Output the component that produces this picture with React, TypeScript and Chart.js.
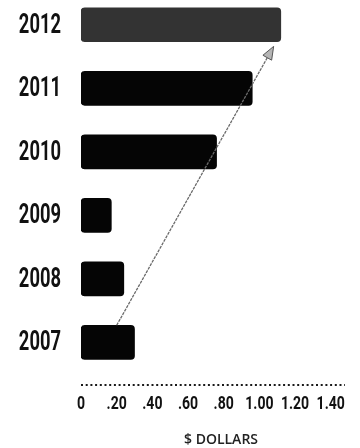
import React, { useEffect, useRef } from "react";
import { Chart, registerables } from "chart.js";

Chart.register(...registerables);

const years = ["2007", "2008", "2009", "2010", "2011", "2012"];
const prices = [0.3, 0.24, 0.17, 0.76, 0.96, 1.12];
const barColors = ["#050505", "#050505", "#050505", "#050505", "#050505", "#333333"];
const xTicks = [0, 0.2, 0.4, 0.6, 0.8, 1.0, 1.2, 1.4];
const axisTitle = "$ DOLLARS";
// trend arrow, in data units (x = dollars, y = year index)
const arrowStart = { x: 0.2, y: 0.27 };
const arrowEnd = { x: 1.08, y: 4.66 };

const fmtTick = (v: number) => {
  if (Math.abs(v) < 1e-9) return "0";
  const s = v.toFixed(2);
  return s.startsWith("0") ? s.slice(1) : s;
};

const condensedText = (
  ctx: CanvasRenderingContext2D,
  text: string,
  x: number,
  y: number,
  font: string,
  sx: number,
  align: CanvasTextAlign,
  color: string
) => {
  ctx.save();
  ctx.font = font;
  ctx.fillStyle = color;
  ctx.textAlign = align;
  ctx.textBaseline = "middle";
  ctx.translate(x, y);
  ctx.scale(sx, 1);
  ctx.fillText(text, 0, 0);
  ctx.restore();
};

const arrowPlugin = {
  id: "trendArrow",
  afterDatasetsDraw(chart: any) {
    const { ctx, scales } = chart;
    const x1 = scales.x.getPixelForValue(arrowStart.x);
    const y1 = scales.y.getPixelForValue(arrowStart.y);
    const x2 = scales.x.getPixelForValue(arrowEnd.x);
    const y2 = scales.y.getPixelForValue(arrowEnd.y);
    const ang = Math.atan2(y2 - y1, x2 - x1);
    const headLen = 13;
    const headW = 5;
    const bx = x2 - headLen * Math.cos(ang);
    const by = y2 - headLen * Math.sin(ang);
    ctx.save();
    ctx.strokeStyle = "#6a6a6a";
    ctx.lineWidth = 1.3;
    ctx.setLineDash([3, 1]);
    ctx.beginPath();
    ctx.moveTo(x1, y1);
    ctx.lineTo(bx, by);
    ctx.stroke();
    ctx.setLineDash([]);
    ctx.beginPath();
    ctx.moveTo(x2, y2);
    ctx.lineTo(bx + headW * Math.sin(ang), by - headW * Math.cos(ang));
    ctx.lineTo(bx - headW * Math.sin(ang), by + headW * Math.cos(ang));
    ctx.closePath();
    ctx.fillStyle = "#b5b5b5";
    ctx.fill();
    ctx.strokeStyle = "#555";
    ctx.lineWidth = 1;
    ctx.stroke();
    ctx.restore();
  },
  afterDraw(chart: any) {
    const { ctx, scales, chartArea } = chart;
    // dotted baseline
    ctx.save();
    ctx.strokeStyle = "#1a1a1a";
    ctx.lineWidth = 2;
    ctx.setLineDash([2, 2.7]);
    ctx.beginPath();
    ctx.moveTo(chartArea.left, chartArea.bottom);
    ctx.lineTo(chartArea.right, chartArea.bottom);
    ctx.stroke();
    ctx.restore();
    // year labels
    years.forEach((yr, i) => {
      const y = scales.y.getPixelForValue(i);
      condensedText(ctx, yr, chartArea.left - 20, y + 1, "bold 27px Roboto, sans-serif", 0.68, "right", "#111");
    });
    // dollar tick labels
    xTicks.forEach((v) => {
      const x = scales.x.getPixelForValue(v);
      condensedText(ctx, fmtTick(v), x, chartArea.bottom + 19, "bold 18px Roboto, sans-serif", 0.78, "center", "#111");
    });
    // axis title
    ctx.save();
    ctx.font = "600 14px 'Open Sans', sans-serif";
    ctx.fillStyle = "#222";
    ctx.textAlign = "center";
    ctx.textBaseline = "middle";
    ctx.fillText(axisTitle, (chartArea.left + chartArea.right) / 2 + 8, chartArea.bottom + 55);
    ctx.restore();
  },
};

export default function App() {
  const ref = useRef<HTMLCanvasElement | null>(null);

  useEffect(() => {
    document.body.style.margin = "0";
    const canvas = ref.current;
    if (!canvas) return;
    const chart = new Chart(canvas, {
      type: "bar",
      data: {
        datasets: [
          {
            data: prices.map((v, i) => ({ x: v, y: i })),
            backgroundColor: barColors,
            borderRadius: 4,
            borderSkipped: false,
            barThickness: 34,
          },
        ],
      },
      options: {
        indexAxis: "y",
        animation: false,
        responsive: false,
        maintainAspectRatio: false,
        layout: { padding: { top: 7, left: 81, right: 15, bottom: 63 } },
        plugins: {
          legend: { display: false },
          tooltip: { enabled: false },
        },
        scales: {
          y: {
            type: "linear",
            offset: false,
            grace: 0,
            min: -0.67,
            max: 5.28,
            ticks: { display: false },
            grid: { display: false, drawTicks: false },
            border: { display: false },
          },
          x: {
            type: "linear",
            offset: false,
            min: 0,
            max: 1.48,
            ticks: { display: false },
            grid: { display: false, drawTicks: false },
            border: { display: false },
          },
        },
      },
      plugins: [arrowPlugin],
    });
    return () => chart.destroy();
  }, []);

  return (
    <div style={{ width: 360, height: 448, background: "#fff" }}>
      <canvas ref={ref} width={360} height={448} style={{ display: "block" }} />
    </div>
  );
}
